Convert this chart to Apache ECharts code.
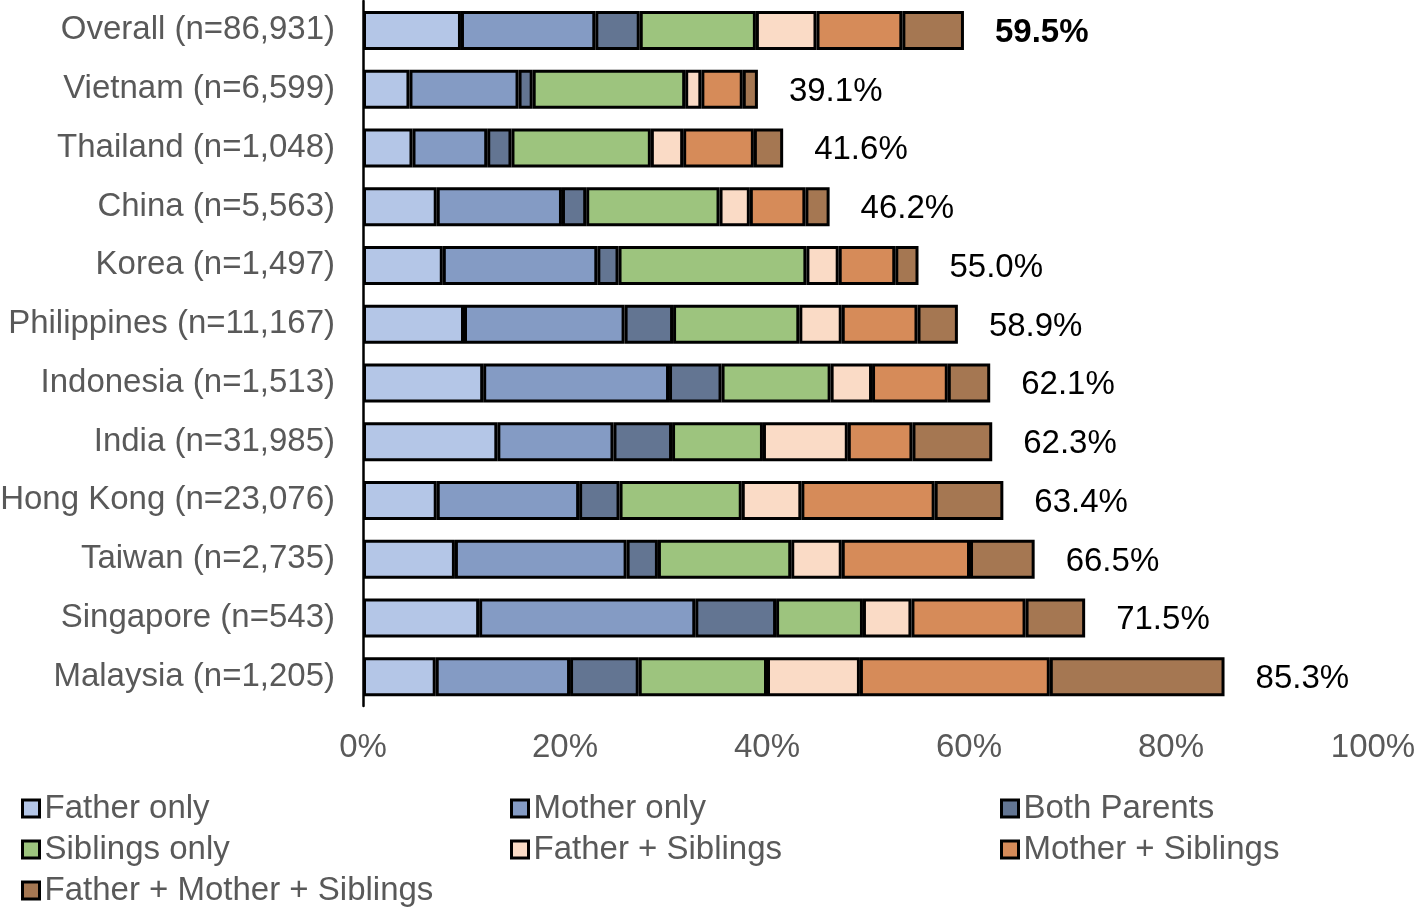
<!DOCTYPE html>
<html>
<head>
<meta charset="utf-8">
<title>Living arrangement by country</title>
<script src="https://cdn.jsdelivr.net/npm/echarts@6.0.0/dist/echarts.min.js"></script>
<style>
  html, body { margin: 0; padding: 0; background: #fff; }
  #chart { width: 1422px; height: 909px; }
</style>
</head>
<body>
<div id="chart"></div>
<script>
// rows, top to bottom
const categories = [
  "Overall (n=86,931)", "Vietnam (n=6,599)", "Thailand (n=1,048)", "China (n=5,563)",
  "Korea (n=1,497)", "Philippines (n=11,167)", "Indonesia (n=1,513)", "India (n=31,985)",
  "Hong Kong (n=23,076)", "Taiwan (n=2,735)", "Singapore (n=543)", "Malaysia (n=1,205)"
];

// percent values
const fatherOnly     = [9.7, 4.6, 4.9, 7.3, 7.9, 10.0, 11.9, 13.3, 7.3, 9.1, 11.5, 7.2];
const motherOnly     = [13.3, 10.8, 7.4, 12.4, 15.3, 15.9, 18.4, 11.5, 14.1, 17.0, 21.4, 13.3];
const bothParents    = [4.4, 1.4, 2.4, 2.4, 2.1, 4.8, 5.2, 5.8, 4.0, 3.1, 8.0, 6.8];
const siblingsOnly   = [11.5, 15.1, 13.8, 13.2, 18.6, 12.5, 10.8, 9.0, 12.1, 13.2, 8.6, 12.7];
const fatherSiblings = [6.0, 1.6, 3.2, 3.0, 3.2, 4.2, 4.1, 8.4, 5.9, 5.0, 4.8, 9.2];
const motherSiblings = [8.5, 4.1, 7.0, 5.5, 5.6, 7.5, 7.5, 6.4, 13.2, 12.7, 11.3, 18.8];
const allThree       = [6.1, 1.5, 2.9, 2.4, 2.3, 4.0, 4.2, 7.9, 6.8, 6.4, 5.9, 17.3];
const totals         = [59.5, 39.1, 41.6, 46.2, 55.0, 58.9, 62.1, 62.3, 63.4, 66.5, 71.5, 85.3];

const seriesNames = [
  "Father only", "Mother only", "Both Parents", "Siblings only",
  "Father + Siblings", "Mother + Siblings", "Father + Mother + Siblings"
];
const seriesValues = [fatherOnly, motherOnly, bothParents, siblingsOnly, fatherSiblings, motherSiblings, allThree];
const colors = ["#B4C6E7", "#849BC4", "#637592", "#9DC47E", "#FADBC6", "#D68B59", "#A57752"];

const FONT = "'Liberation Sans', Arial, sans-serif";
const chart = echarts.init(document.getElementById("chart"));

const series = seriesNames.map(function (name, i) {
  const s = {
    name: name,
    type: "bar",
    stack: "total",
    barWidth: 39,
    data: seriesValues[i],
    itemStyle: { color: colors[i], borderColor: "#000", borderWidth: 3 },
    emphasis: { disabled: true }
  };
  if (i === seriesNames.length - 1) {
    // total label to the right of each bar
    s.label = {
      show: true,
      position: "right",
      distance: 31,
      padding: [5, 0, 0, 0],
      fontFamily: FONT,
      fontSize: 33,
      color: "#000",
      formatter: function (p) {
        const t = totals[p.dataIndex].toFixed(1) + "%";
        return p.dataIndex === 0 ? "{b|" + t + "}" : t;
      },
      rich: { b: { fontFamily: FONT, fontSize: 33, fontWeight: "bold", color: "#000" } }
    };
  }
  return s;
});

function legendColumn(names, left) {
  return {
    data: names,
    orient: "vertical",
    left: left,
    top: 792,
    padding: 0,
    itemGap: 8,
    itemWidth: 17,
    itemHeight: 17,
    icon: "rect",
    selectedMode: false,
    itemStyle: { borderColor: "#000", borderWidth: 3 },
    textStyle: { fontFamily: FONT, fontSize: 33, lineHeight: 33, color: "#595959" }
  };
}

const option = {
  animation: false,
  grid: { left: 363, right: 49, top: 1, bottom: 203, containLabel: false, outerBoundsMode: "none" },
  legend: [
    legendColumn(["Father only", "Siblings only", "Father + Mother + Siblings"], 21),
    legendColumn(["Mother only", "Father + Siblings"], 510),
    legendColumn(["Both Parents", "Mother + Siblings"], 1000)
  ],
  xAxis: {
    type: "value",
    min: 0,
    max: 100,
    interval: 20,
    axisLine: { show: false },
    axisTick: { show: false },
    splitLine: { show: false },
    axisLabel: {
      formatter: "{value}%",
      fontFamily: FONT,
      fontSize: 33,
      color: "#595959",
      margin: 25
    }
  },
  yAxis: {
    type: "category",
    inverse: true,
    data: categories,
    axisLine: { show: true, lineStyle: { color: "#000", width: 2.5 } },
    axisTick: { show: false },
    axisLabel: { fontFamily: FONT, fontSize: 33, color: "#595959", margin: 28, padding: [5, 0, 0, 0] }
  },
  series: series
};

chart.setOption(option);
</script>
</body>
</html>
